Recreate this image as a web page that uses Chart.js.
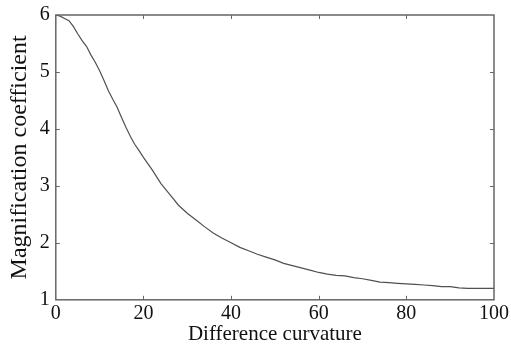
<!DOCTYPE html>
<html>
<head>
<meta charset="utf-8">
<script src="https://cdn.jsdelivr.net/npm/chart.js@4"></script>
<style>
  html, body { margin: 0; padding: 0; background: #fff; }
  #wrap { width: 511px; height: 347px; }
</style>
</head>
<body>
<div id="wrap"><canvas id="curveChart"></canvas></div>
<script>
// curve
var curvature = [0, 1, 2, 3, 4, 5, 6, 7, 8, 9, 10, 11, 12, 13, 14, 15, 16, 17, 18, 19, 20,
    22, 24, 26, 28, 30, 32, 34, 36, 38, 40, 42, 44, 46, 48, 50, 52, 54, 56, 58, 60,
    62, 64, 66, 68, 70, 72, 74, 76, 78, 80, 82, 84, 86, 88, 90, 92, 94, 96, 98, 100];
var magnification = [6.00, 5.98, 5.94, 5.90, 5.80, 5.67, 5.55, 5.45, 5.30, 5.17, 5.02,
    4.85, 4.67, 4.52, 4.38, 4.20, 4.03, 3.87, 3.73, 3.62, 3.50,
    3.28, 3.04, 2.85, 2.66, 2.52, 2.40, 2.28, 2.17, 2.08, 2.00,
    1.92, 1.86, 1.80, 1.75, 1.70, 1.64, 1.60, 1.56, 1.52, 1.48,
    1.45, 1.43, 1.42, 1.39, 1.37, 1.34, 1.31, 1.30, 1.29, 1.28,
    1.27, 1.26, 1.25, 1.23, 1.23, 1.21, 1.20, 1.20, 1.20, 1.20];
var xTicks = [0, 20, 40, 60, 80, 100];
var yTicks = [1, 2, 3, 4, 5, 6];

var points = curvature.map(function (x, i) { return { x: x, y: magnification[i] }; });
var serif = "'Liberation Serif', 'DejaVu Serif', serif";
var axisColor = '#666';

// box round the plot and short ticks pointing inward
var frameBox = {
    id: 'frameBox',
    afterDraw: function (chart) {
        var ctx = chart.ctx, a = chart.chartArea;
        var xs = chart.scales.x, ys = chart.scales.y;
        ctx.save();
        ctx.strokeStyle = axisColor;
        ctx.lineWidth = 1.5;
        ctx.strokeRect(a.left, a.top, a.right - a.left, a.bottom - a.top);
        ctx.lineWidth = 1;
        ctx.beginPath();
        xTicks.slice(1, -1).forEach(function (v) {
            var px = Math.round(xs.getPixelForValue(v)) + 0.5;
            ctx.moveTo(px, a.bottom); ctx.lineTo(px, a.bottom - 4);
            ctx.moveTo(px, a.top); ctx.lineTo(px, a.top + 4);
        });
        yTicks.slice(1, -1).forEach(function (v) {
            var py = Math.round(ys.getPixelForValue(v)) + 0.5;
            ctx.moveTo(a.left, py); ctx.lineTo(a.left + 4, py);
            ctx.moveTo(a.right, py); ctx.lineTo(a.right - 4, py);
        });
        ctx.stroke();
        ctx.restore();
    }
};

new Chart(document.getElementById('curveChart'), {
    type: 'line',
    data: {
        datasets: [{
            data: points,
            borderColor: '#505050',
            borderWidth: 1.2,
            pointRadius: 0,
            tension: 0,
            fill: false
        }]
    },
    options: {
        responsive: true,
        maintainAspectRatio: false,
        animation: false,
        layout: { padding: { top: 2, right: 4, left: 5, bottom: 0 } },
        plugins: {
            legend: { display: false },
            tooltip: { enabled: false }
        },
        scales: {
            x: {
                type: 'linear',
                min: 0,
                max: 100,
                afterBuildTicks: function (scale) {
                    scale.ticks = xTicks.map(function (v) { return { value: v }; });
                },
                grid: { display: false, drawTicks: false },
                border: { display: false },
                ticks: { color: '#111', padding: 2, maxRotation: 0, font: { family: serif, size: 20 } },
                title: {
                    display: true,
                    text: 'Difference curvature',
                    color: '#111',
                    padding: { top: -6, bottom: 0 },
                    font: { family: serif, size: 21 }
                }
            },
            y: {
                type: 'linear',
                min: 1,
                max: 6,
                afterBuildTicks: function (scale) {
                    scale.ticks = yTicks.map(function (v) { return { value: v }; });
                },
                grid: { display: false, drawTicks: false },
                border: { display: false },
                ticks: { color: '#111', padding: 6, font: { family: serif, size: 20, lineHeight: 0.9 } },
                title: {
                    display: true,
                    text: 'Magnification coefficient',
                    color: '#111',
                    padding: { top: 0, bottom: 0 },
                    font: { family: serif, size: 24 }
                }
            }
        }
    },
    plugins: [frameBox]
});
</script>
</body>
</html>
